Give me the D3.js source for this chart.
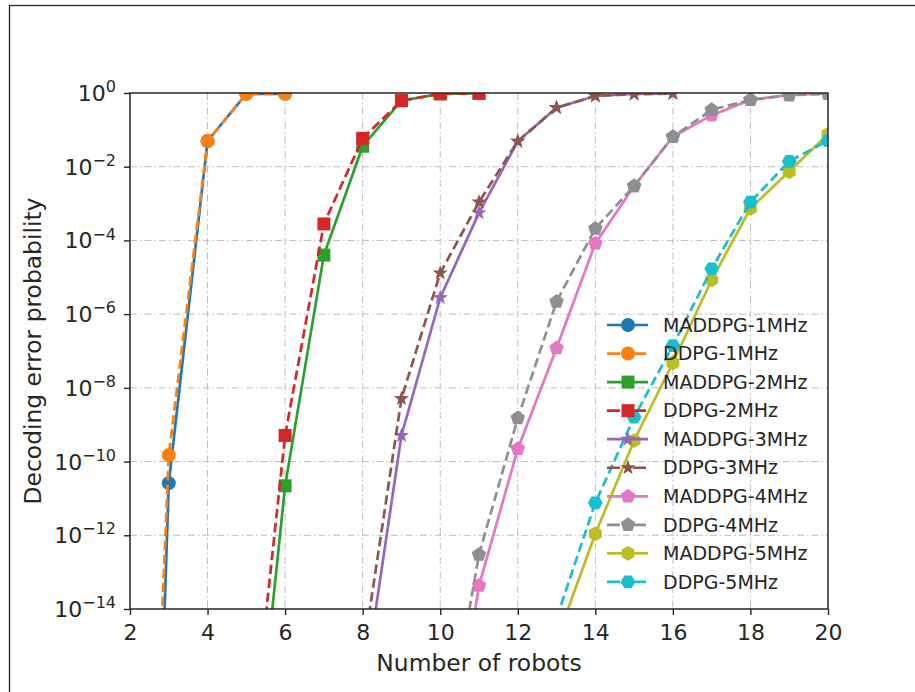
<!DOCTYPE html>
<html>
<head>
<meta charset="utf-8">
<script src="https://cdn.jsdelivr.net/npm/d3@7"></script>
<style>
  html, body { margin: 0; padding: 0; background: #fff; }
  svg { display: block; font-family: "DejaVu Sans", sans-serif; }
</style>
</head>
<body>
<svg id="chart" width="915" height="692"></svg>
<script>
// Number of robots at which each bandwidth group was evaluated
const robots1MHz = [2, 3, 4, 5, 6];
const robots2MHz = [5, 6, 7, 8, 9, 10, 11];
const robots3MHz = [8, 9, 10, 11, 12, 13, 14, 15, 16];
const robots4MHz = [10, 11, 12, 13, 14, 15, 16, 17, 18, 19, 20];
const robots5MHz = [13, 14, 15, 16, 17, 18, 19, 20];

// Decoding error probability per scheme
const maddpg1MHz = [4e-43, 2.6e-11, 5.0e-2, 0.95, 0.95];
const ddpg1MHz   = [1.6e-35, 1.5e-10, 5.0e-2, 0.95, 0.95];
const maddpg2MHz = [1.6e-21, 2.2e-11, 4.0e-5, 3.6e-2, 0.62, 0.95, 0.98];
const ddpg2MHz   = [8e-20, 5.1e-10, 2.8e-4, 5.9e-2, 0.62, 0.95, 0.98];
const maddpg3MHz = [4e-17, 5.1e-10, 2.8e-6, 5.6e-4, 4.9e-2, 0.40, 0.83, 0.95, 0.98];
const ddpg3MHz   = [5e-16, 5.1e-9, 1.3e-5, 1.1e-3, 4.9e-2, 0.40, 0.83, 0.93, 0.96];
const maddpg4MHz = [1e-20, 4.3e-14, 2.2e-10, 1.2e-7, 8.3e-5, 3.0e-3, 6.5e-2, 0.25, 0.65, 0.89, 0.98];
const ddpg4MHz   = [3e-19, 3.0e-13, 1.5e-9, 2.2e-6, 2.1e-4, 3.0e-3, 6.5e-2, 0.35, 0.65, 0.87, 0.95];
const maddpg5MHz = [1.4e-15, 1.1e-12, 3.7e-10, 4.8e-8, 8.5e-6, 7.4e-4, 7.4e-3, 7.6e-2];
const ddpg5MHz   = [5.6e-15, 7.6e-12, 1.6e-9, 1.4e-7, 1.7e-5, 1.1e-3, 1.4e-2, 5.1e-2];

// Axis ticks
const xTicks = [2, 4, 6, 8, 10, 12, 14, 16, 18, 20];
const yExponents = [0, -2, -4, -6, -8, -10, -12, -14];

const series = [
  { name: "MADDPG-1MHz", x: robots1MHz, y: maddpg1MHz, color: "#1f77b4", dashed: false, marker: "circle" },
  { name: "DDPG-1MHz",   x: robots1MHz, y: ddpg1MHz,   color: "#ff7f0e", dashed: true,  marker: "circle" },
  { name: "MADDPG-2MHz", x: robots2MHz, y: maddpg2MHz, color: "#2ca02c", dashed: false, marker: "square" },
  { name: "DDPG-2MHz",   x: robots2MHz, y: ddpg2MHz,   color: "#d62728", dashed: true,  marker: "square" },
  { name: "MADDPG-3MHz", x: robots3MHz, y: maddpg3MHz, color: "#9467bd", dashed: false, marker: "star" },
  { name: "DDPG-3MHz",   x: robots3MHz, y: ddpg3MHz,   color: "#8c564b", dashed: true,  marker: "star" },
  { name: "MADDPG-4MHz", x: robots4MHz, y: maddpg4MHz, color: "#e377c2", dashed: false, marker: "pentagon" },
  { name: "DDPG-4MHz",   x: robots4MHz, y: ddpg4MHz,   color: "#8f8f8f", dashed: true,  marker: "pentagon" },
  { name: "MADDPG-5MHz", x: robots5MHz, y: maddpg5MHz, color: "#bcbd22", dashed: false, marker: "hexagon" },
  { name: "DDPG-5MHz",   x: robots5MHz, y: ddpg5MHz,   color: "#17becf", dashed: true,  marker: "hexagon2" }
];

const svg = d3.select("#chart");
const W = 915, H = 692;
const margin = { left: 130, right: W - 828, top: 93, bottom: H - 609 };
const plotW = W - margin.left - margin.right;
const plotH = H - margin.top - margin.bottom;
const textColor = "#262626";

// Page frame
svg.append("rect")
  .attr("x", 9.5).attr("y", 5.5).attr("width", 1000).attr("height", 1000)
  .attr("fill", "none").attr("stroke", "#222").attr("stroke-width", 1.3);

const x = d3.scaleLinear().domain([2, 20]).range([0, plotW]);
const y = d3.scaleLog().domain([1e-14, 1]).range([plotH, 0]);

const g = svg.append("g").attr("transform", `translate(${margin.left},${margin.top})`);

g.append("defs").append("clipPath").attr("id", "plot-clip")
  .append("rect").attr("x", 0).attr("y", 0).attr("width", plotW).attr("height", plotH);

// Grid
const grid = g.append("g").attr("class", "grid");
grid.selectAll("line.gx").data(xTicks.slice(1, -1)).join("line")
  .attr("x1", d => x(d)).attr("x2", d => x(d)).attr("y1", 0).attr("y2", plotH);
grid.selectAll("line.gy").data(yExponents.slice(1, -1)).join("line")
  .attr("y1", d => y(Math.pow(10, d))).attr("y2", d => y(Math.pow(10, d)))
  .attr("x1", 0).attr("x2", plotW);
grid.selectAll("line")
  .attr("stroke", "#bdbdbd").attr("stroke-width", 1)
  .attr("stroke-dasharray", "7,3,1.5,3");

// Marker paths
function polygon(n, r, rot) {
  const pts = [];
  for (let i = 0; i < n; i++) {
    const a = rot + i * 2 * Math.PI / n;
    pts.push([r * Math.sin(a), -r * Math.cos(a)]);
  }
  return "M" + pts.map(p => p[0].toFixed(2) + "," + p[1].toFixed(2)).join("L") + "Z";
}
function star(ro, ri) {
  const pts = [];
  for (let i = 0; i < 10; i++) {
    const r = i % 2 === 0 ? ro : ri;
    const a = i * Math.PI / 5;
    pts.push([r * Math.sin(a), -r * Math.cos(a)]);
  }
  return "M" + pts.map(p => p[0].toFixed(2) + "," + p[1].toFixed(2)).join("L") + "Z";
}
const markerPath = {
  circle: d3.symbol(d3.symbolCircle, Math.PI * 7 * 7)(),
  square: "M-6.5,-6.5L6.5,-6.5L6.5,6.5L-6.5,6.5Z",
  star: star(8, 3.2),
  pentagon: polygon(5, 7.6, 0),
  hexagon: polygon(6, 7.4, 0),
  hexagon2: polygon(6, 7.4, Math.PI / 6)
};

// Curves and markers
const line = d3.line().x(d => x(d[0])).y(d => y(d[1]));
const plot = g.append("g").attr("clip-path", "url(#plot-clip)");
series.forEach(s => {
  const pts = s.x.map((xv, i) => [xv, s.y[i]]);
  const sg = plot.append("g");
  sg.append("path")
    .attr("d", line(pts))
    .attr("fill", "none")
    .attr("stroke", s.color)
    .attr("stroke-width", 2.7)
    .attr("stroke-dasharray", s.dashed ? "9.5,4.5" : null);
  sg.selectAll("path.m").data(pts).join("path")
    .attr("class", "m")
    .attr("d", markerPath[s.marker])
    .attr("transform", d => `translate(${x(d[0])},${y(d[1])})`)
    .attr("fill", s.color);
});

// Axes
const xAxis = g.append("g").attr("transform", `translate(0,${plotH})`)
  .call(d3.axisBottom(x).tickValues(xTicks).tickSize(6).tickPadding(5).tickFormat(d3.format("d")));
const yAxis = g.append("g")
  .call(d3.axisLeft(y).tickValues(yExponents.map(e => Math.pow(10, e))).tickSize(6).tickPadding(8).tickFormat(() => ""));

[xAxis, yAxis].forEach(a => {
  a.select(".domain").remove();
  a.selectAll(".tick line").attr("stroke", textColor).attr("stroke-width", 1.4);
  a.selectAll("text").attr("fill", textColor).attr("font-family", "DejaVu Sans").attr("font-size", 22);
});
xAxis.selectAll("text").attr("dy", "0.92em");

yAxis.selectAll(".tick").each(function (d) {
  const t = d3.select(this).select("text");
  const e = Math.round(Math.log10(d));
  t.text(null).attr("dy", "0.34em");
  t.append("tspan").text("10");
  t.append("tspan").attr("dy", "-0.55em").attr("font-size", 16).text(e === 0 ? "0" : "\u2212" + Math.abs(e));
});

// Spines
g.append("rect")
  .attr("x", 0).attr("y", 0).attr("width", plotW).attr("height", plotH)
  .attr("fill", "none").attr("stroke", textColor).attr("stroke-width", 1.5);

// Axis titles
svg.append("text")
  .attr("x", margin.left + plotW / 2).attr("y", 671)
  .attr("text-anchor", "middle").attr("fill", textColor).attr("font-size", 23.4)
  .text("Number of robots");
svg.append("text")
  .attr("transform", `translate(41,${margin.top + plotH / 2}) rotate(-90)`)
  .attr("text-anchor", "middle").attr("fill", textColor).attr("font-size", 23.4)
  .text("Decoding error probability");

// Legend
const legend = svg.append("g").attr("transform", "translate(607,325)");
series.forEach((s, i) => {
  const row = legend.append("g").attr("transform", `translate(0,${i * 28.55})`);
  row.append("line")
    .attr("x1", 0).attr("x2", 41).attr("y1", 0).attr("y2", 0)
    .attr("stroke", s.color).attr("stroke-width", 2.7)
    .attr("stroke-dasharray", s.dashed ? "13,13" : null);
  row.append("path")
    .attr("d", markerPath[s.marker])
    .attr("transform", "translate(21,0)")
    .attr("fill", s.color);
  row.append("text")
    .attr("x", 56).attr("y", 0).attr("dy", "0.35em")
    .attr("fill", textColor).attr("font-size", 19)
    .text(s.name);
});
</script>
</body>
</html>
